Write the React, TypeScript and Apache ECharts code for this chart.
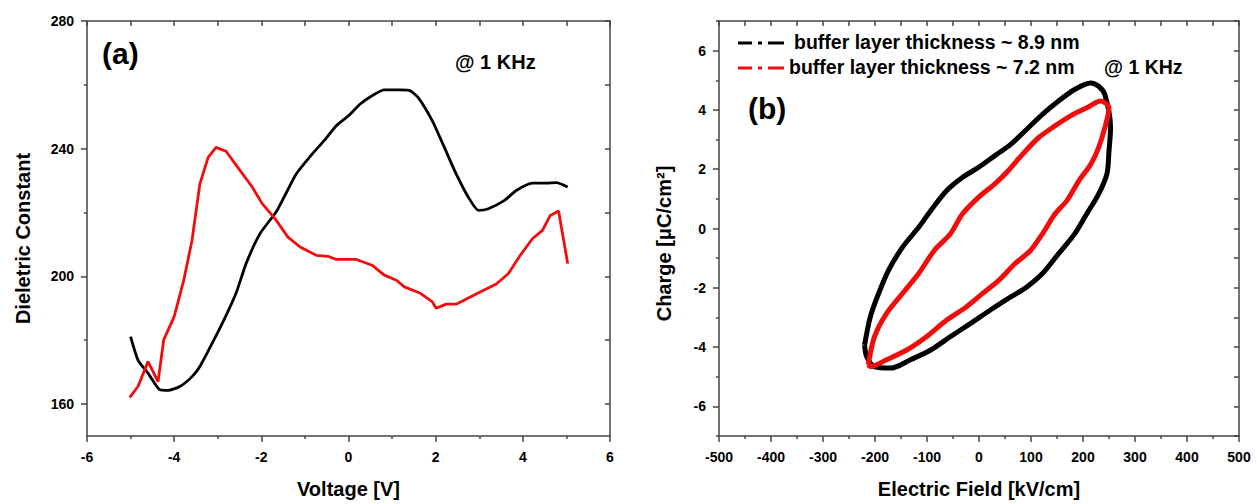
import React, { useEffect, useRef } from 'react';
import * as echarts from 'echarts';

// ---- Panel (a): Dielectric constant vs voltage ----
const voltageTicks = [-6, -4, -2, 0, 2, 4, 6];
const dielectricTicks = [160, 200, 240, 280];
const dielectricMinorTicks = [180, 220, 260];

const voltageBlack = [-5.0, -4.83, -4.6, -4.33, -4.14, -3.87, -3.59, -3.41, -3.13, -2.86, -2.58, -2.35, -2.03, -1.66, -1.48, -1.2, -0.83, -0.56, -0.28, 0.0, 0.27, 0.54, 0.82, 1.19, 1.42, 1.6, 1.92, 2.2, 2.47, 2.75, 2.98, 3.21, 3.58, 3.85, 4.22, 4.5, 4.77, 5.03];
const dielectricBlack = [181.1, 173.8, 169.7, 164.5, 164.3, 165.5, 168.6, 171.8, 179.0, 186.3, 194.7, 204.0, 213.4, 220.2, 224.8, 232.1, 238.4, 242.5, 247.2, 250.3, 254.0, 256.6, 258.4, 258.4, 258.1, 256.0, 248.8, 240.4, 232.1, 224.8, 220.7, 221.2, 223.8, 226.9, 229.2, 229.2, 229.4, 228.0];

const voltageRed = [-5.02, -4.83, -4.6, -4.37, -4.24, -4.0, -3.78, -3.59, -3.41, -3.22, -3.04, -2.81, -2.49, -2.21, -1.98, -1.66, -1.39, -1.11, -0.74, -0.47, -0.28, 0.18, 0.54, 0.82, 1.1, 1.28, 1.65, 1.92, 2.01, 2.24, 2.47, 2.93, 3.39, 3.67, 3.94, 4.22, 4.45, 4.63, 4.82, 5.03];
const dielectricRed = [162.1, 165.5, 173.3, 167.0, 180.1, 187.4, 198.8, 211.3, 229.0, 237.3, 240.4, 239.2, 233.2, 228.0, 222.8, 217.6, 212.3, 209.2, 206.6, 206.3, 205.3, 205.3, 203.5, 200.4, 198.8, 196.7, 194.7, 192.1, 190.0, 191.3, 191.3, 194.5, 197.6, 200.9, 206.6, 211.8, 214.4, 219.1, 220.5, 204.0];

// ---- Panel (b): Charge vs electric field ----
const chargeTicks = [-6, -4, -2, 0, 2, 4, 6];
const chargeMinorTicks = [-7, -5, -3, -1, 1, 3, 5, 7];

const fieldThick = [-220, -209, -193, -174, -147, -116, -93, -62, -32, -1, 30, 61, 92, 122, 153, 184, 215, 230, 242, 253, 250, 246, 230, 207, 184, 153, 122, 92, 61, 22, -16, -55, -93, -132, -170, -201, -216, -220];
const chargeThick = [-3.93, -2.98, -2.19, -1.41, -0.63, 0.04, 0.6, 1.28, 1.72, 2.06, 2.45, 2.84, 3.35, 3.85, 4.3, 4.69, 4.91, 4.8, 4.52, 3.4, 2.62, 1.84, 1.16, 0.49, -0.18, -0.85, -1.52, -1.97, -2.31, -2.75, -3.2, -3.65, -4.1, -4.43, -4.71, -4.66, -4.32, -3.93];

const fieldThin = [-213, -201, -178, -147, -116, -86, -55, -32, -1, 30, 53, 84, 115, 146, 176, 207, 234, 250, 242, 230, 215, 192, 169, 146, 122, 99, 69, 38, 7, -24, -62, -101, -139, -178, -209, -213];
const chargeThin = [-4.6, -3.65, -2.87, -2.19, -1.52, -0.74, -0.18, 0.49, 1.05, 1.5, 1.89, 2.51, 3.07, 3.46, 3.8, 4.07, 4.3, 4.07, 3.4, 2.73, 2.17, 1.61, 0.94, 0.49, -0.18, -0.74, -1.19, -1.75, -2.19, -2.64, -3.09, -3.65, -4.1, -4.43, -4.66, -4.6];

const legendLabels = ['buffer layer thickness ~ 8.9 nm', 'buffer layer thickness ~ 7.2 nm'];
const freqLabel = '@ 1 KHz';

const FONT = 'Liberation Sans, Arial, sans-serif';
const AXIS = '#444';
const RED = '#f20d0d';

const zip = (xs: number[], ys: number[]) => xs.map((x, i) => [x, ys[i]]);

const labelStyle = { color: '#000', fontWeight: 'bold', fontSize: 14, fontFamily: FONT };
const nameStyle = { color: '#000', fontWeight: 'bold', fontSize: 20, fontFamily: FONT };
const tickLine = { color: AXIS, width: 1.5 };

function baseAxis(extra: any) {
  return {
    type: 'value',
    axisLine: { show: true, onZero: false, lineStyle: { color: AXIS, width: 1.5 } },
    axisTick: { show: true, length: 6, lineStyle: tickLine },
    splitLine: { show: false },
    axisLabel: { show: false },
    ...extra,
  };
}

function legendSample(y: number, color: string) {
  return [
    { type: 'line', shape: { x1: 738, y1: y, x2: 752, y2: y }, style: { stroke: color, lineWidth: 3 } },
    { type: 'line', shape: { x1: 758, y1: y, x2: 762, y2: y }, style: { stroke: color, lineWidth: 3 } },
    { type: 'line', shape: { x1: 768, y1: y, x2: 784, y2: y }, style: { stroke: color, lineWidth: 3 } },
  ];
}

export default function App() {
  const ref = useRef<HTMLDivElement>(null);
  useEffect(() => {
    const chart = echarts.init(ref.current!, null, { renderer: 'svg' });
    const option: any = {
      animation: false,
      backgroundColor: '#fff',
      grid: [
        { left: 87, top: 21, width: 523, height: 416 },
        { left: 719, top: 21, width: 520, height: 416 },
      ],
      xAxis: [
        baseAxis({
          gridIndex: 0, position: 'bottom', min: -6, max: 6, interval: 2,
          minorTick: { show: true, splitNumber: 2, length: 3, lineStyle: tickLine },
          axisLabel: { show: true, margin: 14, ...labelStyle, customValues: voltageTicks },
          name: 'Voltage [V]', nameLocation: 'middle', nameGap: 43, nameTextStyle: nameStyle,
        }),
        baseAxis({
          gridIndex: 0, position: 'top', min: -6, max: 6, interval: 1,
          axisTick: { show: true, inside: true, length: 5, lineStyle: tickLine },
        }),
        baseAxis({
          gridIndex: 1, position: 'bottom', min: -500, max: 500, interval: 100,
          minorTick: { show: true, splitNumber: 2, length: 3, lineStyle: tickLine },
          axisLabel: { show: true, margin: 14, ...labelStyle },
          name: 'Electric Field [kV/cm]', nameLocation: 'middle', nameGap: 43, nameTextStyle: nameStyle,
        }),
        baseAxis({
          gridIndex: 1, position: 'top', min: -500, max: 500, interval: 50,
          axisTick: { show: true, inside: true, length: 5, lineStyle: tickLine },
        }),
      ],
      yAxis: [
        baseAxis({
          gridIndex: 0, position: 'left', min: 150, max: 280,
          axisTick: { show: true, length: 6, customValues: dielectricTicks, lineStyle: tickLine },
          axisLabel: { show: true, margin: 13, ...labelStyle, customValues: dielectricTicks },
          name: 'Dieletric Constant', nameLocation: 'middle', nameGap: 54,
          nameTextStyle: { ...nameStyle, padding: [0, 20, 0, 0] },
        }),
        baseAxis({
          gridIndex: 0, position: 'right', min: 150, max: 280,
          axisTick: { show: true, inside: true, length: 5, customValues: [...dielectricTicks, ...dielectricMinorTicks], lineStyle: tickLine },
        }),
        baseAxis({
          gridIndex: 0, position: 'left', min: 150, max: 280,
          axisLine: { show: false, onZero: false },
          axisTick: { show: true, length: 3, customValues: dielectricMinorTicks, lineStyle: tickLine },
        }),
        baseAxis({
          gridIndex: 1, position: 'left', min: -7, max: 7,
          axisTick: { show: true, length: 6, customValues: chargeTicks, lineStyle: tickLine },
          axisLabel: { show: true, margin: 13, ...labelStyle, customValues: chargeTicks },
          name: 'Charge [μC/cm²]', nameLocation: 'middle', nameGap: 45,
          nameTextStyle: { ...nameStyle, padding: [0, 30, 0, 0] },
        }),
        baseAxis({
          gridIndex: 1, position: 'right', min: -7, max: 7, interval: 1,
          axisTick: { show: true, inside: true, length: 5, lineStyle: tickLine },
        }),
        baseAxis({
          gridIndex: 1, position: 'left', min: -7, max: 7,
          axisLine: { show: false, onZero: false },
          axisTick: { show: true, length: 3, customValues: chargeMinorTicks, lineStyle: tickLine },
        }),
      ],
      series: [
        {
          type: 'line', xAxisIndex: 0, yAxisIndex: 0, data: zip(voltageBlack, dielectricBlack),
          symbol: 'none', smooth: 0.2, lineStyle: { color: '#000', width: 2.8 },
        },
        {
          type: 'line', xAxisIndex: 0, yAxisIndex: 0, data: zip(voltageRed, dielectricRed),
          symbol: 'none', lineStyle: { color: RED, width: 2.8 },
        },
        {
          type: 'line', name: legendLabels[0], xAxisIndex: 2, yAxisIndex: 3, data: zip(fieldThick, chargeThick),
          symbol: 'none', smooth: 0.3, lineStyle: { color: '#000', width: 5 },
        },
        {
          type: 'line', name: legendLabels[1], xAxisIndex: 2, yAxisIndex: 3, data: zip(fieldThin, chargeThin),
          symbol: 'none', smooth: 0.3, lineStyle: { color: RED, width: 5 },
        },
      ],
      graphic: [
        { type: 'text', left: 102, top: 38, style: { text: '(a)', font: `bold 30px ${FONT}`, fill: '#000' } },
        { type: 'text', left: 455, top: 52, style: { text: freqLabel, font: `bold 20px ${FONT}`, fill: '#000' } },
        { type: 'text', left: 748, top: 93, style: { text: '(b)', font: `bold 30px ${FONT}`, fill: '#000' } },
        ...legendSample(43, '#000'),
        ...legendSample(68, RED),
        { type: 'text', left: 794, top: 32, style: { text: legendLabels[0], font: `bold 19.5px ${FONT}`, fill: '#000' } },
        { type: 'text', left: 789, top: 57, style: { text: legendLabels[1], font: `bold 19.5px ${FONT}`, fill: '#000' } },
        { type: 'text', left: 1104, top: 57, style: { text: freqLabel, font: `bold 19.5px ${FONT}`, fill: '#000' } },
      ],
    };
    chart.setOption(option);
    return () => chart.dispose();
  }, []);
  return (
    <div
      ref={ref}
      style={{ position: 'absolute', left: 0, top: 0, width: 1257, height: 504, background: '#fff' }}
    />
  );
}
